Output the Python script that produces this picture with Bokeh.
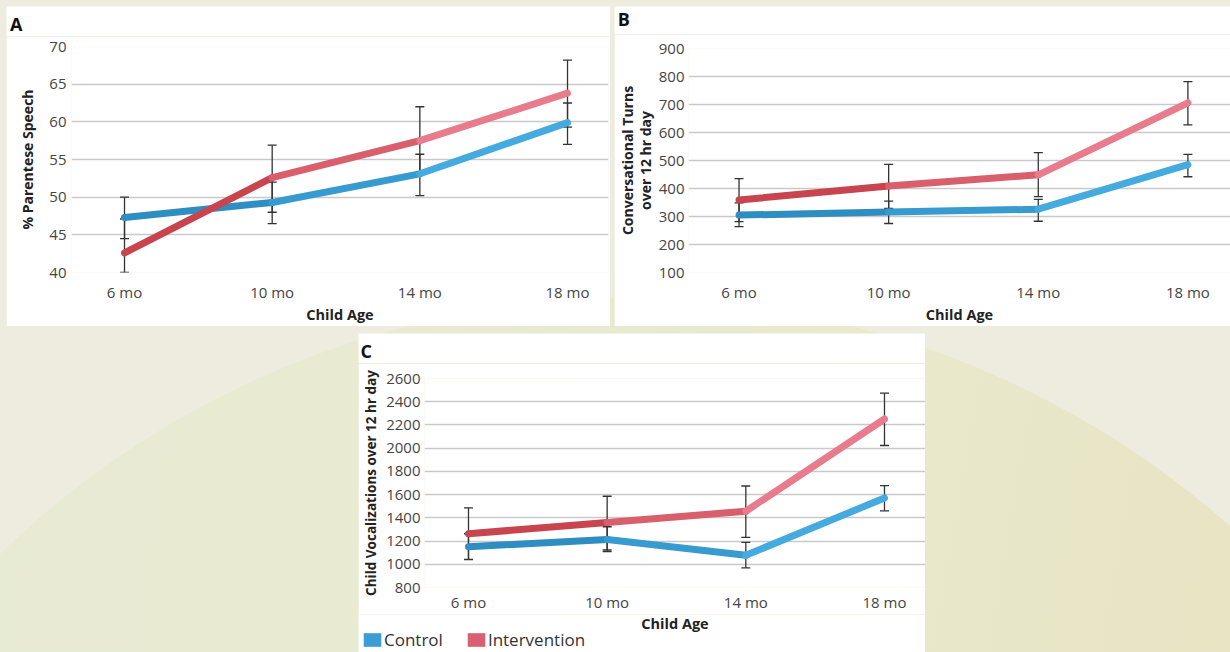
from bokeh.plotting import figure
from bokeh.models import (Range1d, FixedTicker, Whisker, TeeHead, ColumnDataSource,
                          Legend, LegendItem, Spacer, Label)
from bokeh.layouts import column, row
from bokeh.embed import file_html
from bokeh.resources import INLINE

# ---------------- data ----------------
ages = [6, 10, 14, 18]
age_labels = ["6 mo", "10 mo", "14 mo", "18 mo"]
x_title = "Child Age"

# Panel A: % Parentese Speech
a_control = [47.3, 49.3, 53.1, 59.9]
a_control_lo = [44.5, 46.5, 50.2, 57.0]
a_control_hi = [50.0, 52.0, 55.7, 62.5]
a_interv = [42.6, 52.6, 57.5, 63.8]
a_interv_lo = [40.0, 48.0, 53.0, 59.3]
a_interv_hi = [47.1, 56.9, 62.0, 68.2]
a_yticks = [40, 45, 50, 55, 60, 65, 70]

# Panel B: Conversational turns over 12 hr day
b_control = [305, 316, 326, 485]
b_control_lo = [264, 275, 283, 442]
b_control_hi = [349, 355, 361, 522]
b_interv = [359, 409, 449, 706]
b_interv_lo = [282, 329, 371, 627]
b_interv_hi = [435, 486, 528, 782]
b_yticks = [100, 200, 300, 400, 500, 600, 700, 800, 900]

# Panel C: Child vocalizations over 12 hr day
c_control = [1151, 1214, 1077, 1571]
c_control_lo = [1043, 1109, 969, 1460]
c_control_hi = [1263, 1323, 1189, 1677]
c_interv = [1263, 1360, 1457, 2251]
c_interv_lo = [1040, 1123, 1231, 2023]
c_interv_hi = [1486, 1586, 1674, 2474]
c_yticks = [800, 1000, 1200, 1400, 1600, 1800, 2000, 2200, 2400, 2600]

series_names = ["Control", "Intervention"]
panel_letters = ["A", "B", "C"]

# ---------------- style ----------------
FONT = "Open Sans"
RED_SEG = ["#c8444f", "#d95f6d", "#e87b8c"]
BLUE_SEG = ["#2e8ec2", "#389bd0", "#45aade"]
ERR = "#333333"


def blank_strip(width, height):
    s = figure(width=width, height=height, output_backend="svg",
               toolbar_location=None, x_range=Range1d(0, 1), y_range=Range1d(0, 1),
               min_border=0, frame_align=False)
    s.axis.visible = False
    s.grid.visible = False
    s.outline_line_color = None
    return s


def letter_strip(width, height, letter, lx, ly):
    s = blank_strip(width, height)
    s.add_layout(Label(x=lx, y=ly, x_units="screen", y_units="screen", text=letter,
                       text_font=FONT, text_font_size="18px", text_font_style="bold",
                       text_color="#111111", text_baseline="middle"))
    return s


def make_panel(width, height, borders, xr, yr, yticks, ylabel, ylab_size,
               ylab_standoff, ylbl_standoff, xlbl_standoff,
               ctrl, ctrl_lo, ctrl_hi, intv, intv_lo, intv_hi, ylab_lh=1.2,
               xlabel=x_title):
    left, right, top, bottom = borders
    p = figure(width=width, height=height, output_backend="svg",
               toolbar_location=None, x_range=Range1d(*xr), y_range=Range1d(*yr),
               min_border_left=left, min_border_right=right,
               min_border_top=top, min_border_bottom=bottom, frame_align=False)
    p.outline_line_color = None
    p.xgrid.grid_line_color = None
    p.ygrid.grid_line_color = "#c9c9c9"
    p.ygrid.grid_line_width = 1.5

    for ax in (p.xaxis[0], p.yaxis[0]):
        ax.axis_line_color = None
        ax.major_tick_line_color = None
        ax.minor_tick_line_color = None
        ax.major_tick_out = 0
        ax.major_tick_in = 0
        ax.major_label_text_font = FONT
        ax.major_label_text_font_size = "15px"
        ax.major_label_text_color = "#454545"
        ax.axis_label_text_font = FONT
        ax.axis_label_text_font_style = "bold"
        ax.axis_label_text_color = "#222222"

    p.xaxis.ticker = FixedTicker(ticks=ages)
    p.xaxis.major_label_overrides = {a: l for a, l in zip(ages, age_labels)}
    p.xaxis.axis_label = xlabel
    p.xaxis.axis_label_text_font_size = "14.5px"
    p.xaxis.major_label_standoff = xlbl_standoff
    p.xaxis.axis_label_standoff = 0

    p.yaxis.ticker = FixedTicker(ticks=yticks)
    p.yaxis.axis_label = ylabel
    p.yaxis.axis_label_text_font_size = ylab_size
    p.yaxis.axis_label_text_line_height = ylab_lh
    p.yaxis.axis_label_standoff = ylab_standoff
    p.yaxis.major_label_standoff = ylbl_standoff

    p.segment(x0=ages[:-1], y0=ctrl[:-1], x1=ages[1:], y1=ctrl[1:],
              line_color=BLUE_SEG, line_width=7, line_cap="round")
    p.segment(x0=ages[:-1], y0=intv[:-1], x1=ages[1:], y1=intv[1:],
              line_color=RED_SEG, line_width=7, line_cap="round")

    for lo, hi in ((ctrl_lo, ctrl_hi), (intv_lo, intv_hi)):
        src = ColumnDataSource(dict(x=ages, lo=lo, hi=hi))
        w = Whisker(base="x", lower="lo", upper="hi", source=src,
                    line_color=ERR, line_width=1.3,
                    upper_head=TeeHead(size=9, line_color=ERR, line_width=1.3),
                    lower_head=TeeHead(size=9, line_color=ERR, line_width=1.3))
        p.add_layout(w)
    return p


sA = letter_strip(604, 30, panel_letters[0], 3.5, 12.2)
pA = make_panel(604, 290, (65, 2, 10, 53), (4.564, 19.11), (40, 70), a_yticks,
                "% Parentese Speech", "14px", 9, 5, 9,
                a_control, a_control_lo, a_control_hi,
                a_interv, a_interv_lo, a_interv_hi)

sB = letter_strip(616, 28, panel_letters[1], 3.3, 15.7)
pB = make_panel(616, 292, (69, 0, 14, 53), (4.649, 19.139), (100, 900), b_yticks,
                "Conversational Turns\nover 12 hr day", "14px", 1, 4, 9,
                b_control, b_control_lo, b_control_hi,
                b_interv, b_interv_lo, b_interv_hi, ylab_lh=0.95)

sC = letter_strip(567, 30, panel_letters[2], 2, 12.9)
pC = make_panel(567, 251, (66, 0, 15, 26), (4.731, 19.183), (800, 2600), c_yticks,
                "Child Vocalizations over 12 hr day", "13.5px", 3, 4, 4,
                c_control, c_control_lo, c_control_hi,
                c_interv, c_interv_lo, c_interv_hi, xlabel=None)

# strip under panel C: x-axis title and legend (white, same panel)
pL = blank_strip(567, 38)
pL.add_layout(Label(x=316.5, y=28.9, x_units="screen", y_units="screen",
                    text=x_title, text_font=FONT, text_font_size="14.5px",
                    text_font_style="bold", text_color="#222222",
                    text_align="center", text_baseline="middle"))
nan = float("nan")
sw_c = pL.quad(left=[nan], right=[nan], top=[nan], bottom=[nan],
               fill_color="#3a9dd3", line_color=None)
sw_i = pL.quad(left=[nan], right=[nan], top=[nan], bottom=[nan],
               fill_color="#d9606f", line_color=None)
legend = Legend(items=[LegendItem(label=series_names[0], renderers=[sw_c]),
                       LegendItem(label=series_names[1], renderers=[sw_i])],
                location=(3, 0.6), orientation="horizontal",
                padding=0, margin=0, spacing=22, label_standoff=1,
                glyph_width=22, glyph_height=17, label_height=17,
                label_text_font=FONT, label_text_font_size="17px",
                label_text_color="#333333", border_line_color=None,
                background_fill_alpha=0)
pL.add_layout(legend)

bg = {
    "background-color": "#edecdf",
    "background-image": ("radial-gradient(circle 905px at 630px 1203px, "
                         "rgba(237,236,223,0) 904px, #edecdf 905px), "
                         "linear-gradient(100deg, #e8ebd4 0%, #e8eacf 60%, #e8e4c4 100%)"),
}

top_row = row(Spacer(width=6, height=320), column(sA, pA),
              Spacer(width=4, height=320), column(sB, pB))
bottom_row = row(Spacer(width=358, height=319), column(sC, pC, pL),
                 Spacer(width=305, height=319))
layout = column(Spacer(width=1230, height=6), top_row,
                Spacer(width=1230, height=7), bottom_row, styles=bg)

open("out.html", "w").write(file_html(layout, INLINE))
